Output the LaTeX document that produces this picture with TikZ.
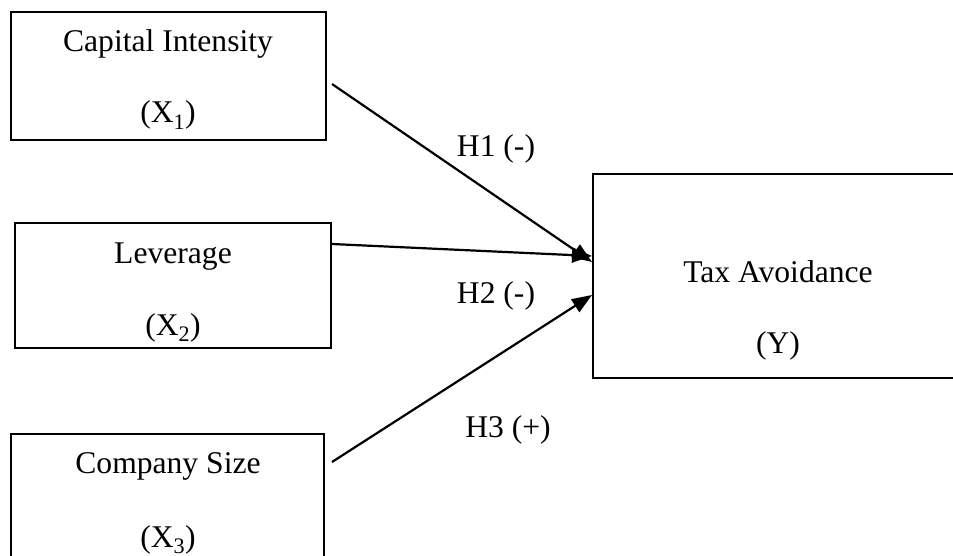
\documentclass[tikz,border=0pt]{standalone}
\usepackage{fontspec}
\setmainfont{Liberation Serif}
\usetikzlibrary{arrows.meta}
\begin{document}
\begin{tikzpicture}[x=1pt,y=-1pt,
  box/.style={draw,line width=2pt,rectangle,inner sep=0pt},
  txt/.style={anchor=base,inner sep=0pt,font=\fontsize{31.6}{38}\selectfont},
  conn/.style={line width=2.2pt,-{Triangle[length=20pt,width=15pt]}}]
\clip (0,0) rectangle (953,556);
\fill[white] (0,0) rectangle (953,556);
% boxes
\node[box,minimum width=315pt,minimum height=128pt] (b1) at (168.5,76) {};
\node[box,minimum width=316pt,minimum height=125pt] (b2) at (173,285.5) {};
\node[box,minimum width=313pt,minimum height=160pt] (b3) at (167.5,514) {};
\node[box,minimum width=372pt,minimum height=204pt] (y) at (779,276) {};
% texts
\node[txt] (t1) at (168,52) {Capital Intensity};
\node[txt] (t1x) at (168,123) {(X\textsubscript{1})};
\node[txt] (t2) at (173,263) {Leverage};
\node[txt] (t2x) at (173,335) {(X\textsubscript{2})};
\node[txt] (t3) at (168,473) {Company Size};
\node[txt] (t3x) at (168,547) {(X\textsubscript{3})};
\node[txt] (ty) at (778,282) {Tax Avoidance};
\node[txt] (tyy) at (778,353) {(Y)};
% connectors
\draw[conn] ([xshift=5pt,yshift=-8pt]b1.east) -- ([yshift=14pt]y.west);
\draw[conn] ([yshift=41.5pt]b2.west -| b2.east) -- ([yshift=20pt]y.west);
\draw[conn] ([xshift=7pt]b3.east |- 0,462) -- ([yshift=-19pt]y.west);
% labels
\node[txt] (h1) at (496,157) {H1 (-)};
\node[txt] (h2) at (496,303) {H2 (-)};
\node[txt] (h3) at (508,437) {H3 (+)};
\end{tikzpicture}
\end{document}
